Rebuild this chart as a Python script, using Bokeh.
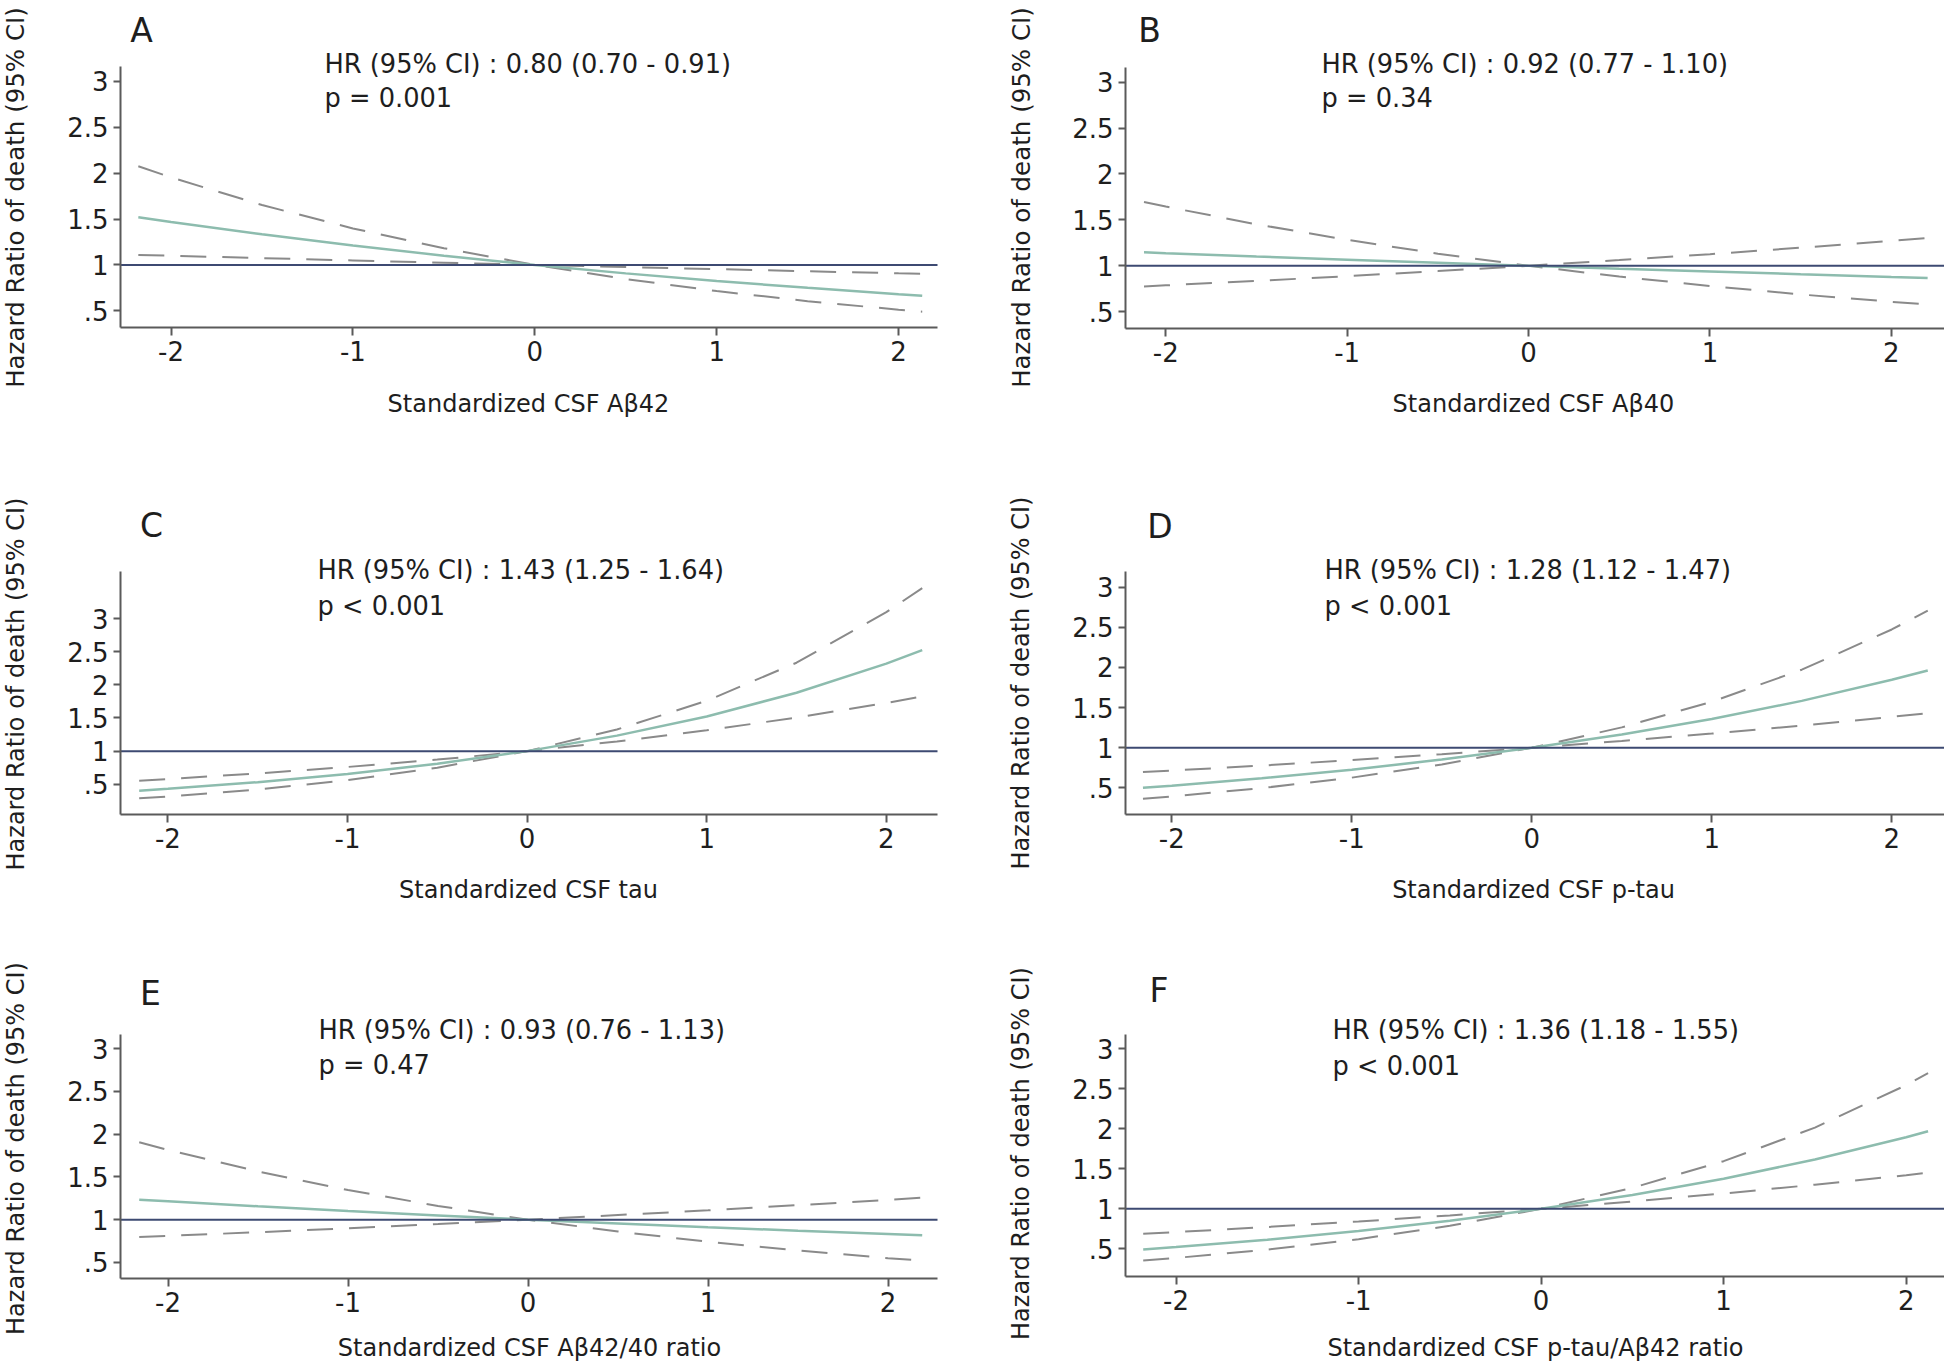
from math import pi
from bokeh.plotting import figure
from bokeh.models import Label, FixedTicker, Range1d
from bokeh.layouts import gridplot
from bokeh.embed import file_html
from bokeh.resources import INLINE

# ---------------- data ----------------
X_TICKS = [-2, -1, 0, 1, 2]
X_TICK_LABELS = ["-2", "-1", "0", "1", "2"]
Y_TICKS = [0.5, 1, 1.5, 2, 2.5, 3]
Y_TICK_LABELS = [".5", "1", "1.5", "2", "2.5", "3"]
REFERENCE_HR = 1

Y_LABEL = "Hazard Ratio of death (95% CI)"
PANEL_LETTERS = ["A", "B", "C", "D", "E", "F"]
X_LABELS = ["Standardized CSF Aβ42", "Standardized CSF Aβ40", "Standardized CSF tau",
            "Standardized CSF p-tau", "Standardized CSF Aβ42/40 ratio",
            "Standardized CSF p-tau/Aβ42 ratio"]
HR_TEXTS = ["HR (95% CI) : 0.80 (0.70 - 0.91)", "HR (95% CI) : 0.92 (0.77 - 1.10)",
            "HR (95% CI) : 1.43 (1.25 - 1.64)", "HR (95% CI) : 1.28 (1.12 - 1.47)",
            "HR (95% CI) : 0.93 (0.76 - 1.13)", "HR (95% CI) : 1.36 (1.18 - 1.55)"]
P_TEXTS = ["p = 0.001", "p = 0.34", "p < 0.001", "p < 0.001", "p = 0.47", "p < 0.001"]

A_X = [-2.18, -2, -1.5, -1, -0.5, 0, 0.5, 1, 1.5, 2, 2.13]
A_HR = [1.52, 1.468, 1.334, 1.212, 1.101, 1.0, 0.908, 0.825, 0.750, 0.681, 0.664]
A_LO = [2.075, 1.954, 1.653, 1.398, 1.182, 1.0, 0.846, 0.715, 0.605, 0.512, 0.49]
A_HI = [1.109, 1.100, 1.074, 1.049, 1.024, 1.0, 0.977, 0.954, 0.931, 0.909, 0.904]

B_X = [-2.12, -2, -1.5, -1, -0.5, 0, 0.5, 1, 1.5, 2, 2.2]
B_HR = [1.147, 1.138, 1.102, 1.067, 1.033, 1.0, 0.968, 0.938, 0.908, 0.879, 0.868]
B_LO = [1.695, 1.645, 1.452, 1.283, 1.132, 1.0, 0.883, 0.780, 0.688, 0.608, 0.578]
B_HI = [0.775, 0.787, 0.835, 0.887, 0.942, 1.0, 1.062, 1.127, 1.197, 1.271, 1.302]

C_X = [-2.16, -2, -1.5, -1, -0.5, 0, 0.5, 1, 1.5, 2, 2.2]
C_HR = [0.403, 0.431, 0.532, 0.656, 0.810, 1.0, 1.234, 1.523, 1.880, 2.32, 2.525]
C_LO = [0.554, 0.579, 0.664, 0.761, 0.872, 1.0, 1.146, 1.314, 1.506, 1.727, 1.824]
C_HI = [0.288, 0.316, 0.421, 0.562, 0.750, 1.0, 1.327, 1.759, 2.334, 3.096, 3.46]

D_X = [-2.16, -2, -1.5, -1, -0.5, 0, 0.5, 1, 1.5, 2, 2.2]
D_HR = [0.502, 0.528, 0.620, 0.727, 0.853, 1.0, 1.166, 1.358, 1.584, 1.846, 1.962]
D_LO = [0.697, 0.716, 0.778, 0.846, 0.920, 1.0, 1.085, 1.177, 1.277, 1.385, 1.43]
D_HI = [0.366, 0.394, 0.498, 0.628, 0.792, 1.0, 1.254, 1.573, 1.972, 2.473, 2.708]

E_X = [-2.16, -2, -1.5, -1, -0.5, 0, 0.5, 1, 1.5, 2, 2.19]
E_HR = [1.234, 1.215, 1.157, 1.102, 1.050, 1.0, 0.955, 0.912, 0.871, 0.832, 0.817]
E_LO = [1.905, 1.815, 1.564, 1.347, 1.161, 1.0, 0.862, 0.742, 0.640, 0.551, 0.521]
E_HI = [0.797, 0.811, 0.854, 0.900, 0.949, 1.0, 1.054, 1.110, 1.170, 1.232, 1.257]

F_X = [-2.18, -2, -1.5, -1, -0.5, 0, 0.5, 1, 1.5, 2, 2.12]
F_HR = [0.492, 0.522, 0.614, 0.722, 0.850, 1.0, 1.174, 1.377, 1.616, 1.896, 1.971]
F_LO = [0.688, 0.709, 0.773, 0.842, 0.918, 1.0, 1.092, 1.192, 1.302, 1.421, 1.451]
F_HI = [0.354, 0.386, 0.490, 0.621, 0.788, 1.0, 1.263, 1.596, 2.016, 2.547, 2.696]

SERIES = [(A_X, A_HR, A_LO, A_HI), (B_X, B_HR, B_LO, B_HI), (C_X, C_HR, C_LO, C_HI),
          (D_X, D_HR, D_LO, D_HI), (E_X, E_HR, E_LO, E_HI), (F_X, F_HR, F_LO, F_HI)]

# ---------------- layout / style (page pixel coordinates) ----------------
FONT = "DejaVu Sans"
TEXT_COLOR = "#1e1e1e"
AXIS_COLOR = "#5a5a5a"
HR_COLOR = "#8dbcae"
CI_COLOR = "#8a8a8a"
REF_COLOR = "#3d4a72"
CI_DASH = "26 16"

COL_OX = [0, 968]
COL_W = [968, 976]
ROW_OY = [0, 455, 930]
ROW_H = [455, 475, 437]

# axes box (left, top, right, bottom) in page px, its x/y data extent, text centres in page px
GEOM = [
    dict(frame=(120, 66, 937, 327), xr=(-2.278, 2.214), yr=(0.318, 3.163),
         letter=(141, 30), hr=(324, 63), p=(324, 97), xl=(528, 403), yl=(15, 197), yls="24.5px"),
    dict(frame=(1125, 67, 1944, 328), xr=(-2.222, 2.293), yr=(0.317, 3.16),
         letter=(1149, 30), hr=(1321, 63), p=(1321, 97), xl=(1533, 403), yl=(1020.5, 197), yls="24.5px"),
    dict(frame=(120, 571, 937, 814), xr=(-2.264, 2.285), yr=(0.044, 3.71),
         letter=(151, 525), hr=(317, 569), p=(317, 605), xl=(528, 889), yl=(15, 683.5), yls="24px"),
    dict(frame=(1125, 571, 1944, 814), xr=(-2.257, 2.293), yr=(0.169, 3.195),
         letter=(1159.5, 526), hr=(1324, 569), p=(1324, 605), xl=(1533, 889), yl=(1020.5, 682.5), yls="24px"),
    dict(frame=(120, 1034, 937, 1278), xr=(-2.264, 2.275), yr=(0.313, 3.164),
         letter=(150, 993), hr=(318, 1029), p=(318, 1064), xl=(529, 1347), yl=(15.5, 1148), yls="24px"),
    dict(frame=(1125, 1034, 1944, 1276), xr=(-2.277, 2.21), yr=(0.154, 3.18),
         letter=(1158.5, 990), hr=(1332, 1029), p=(1332, 1065), xl=(1535, 1347), yl=(1020.5, 1153), yls="24px"),
]


def make_panel(i):
    row, col = divmod(i, 2)
    ox, oy = COL_OX[col], ROW_OY[row]
    w, h = COL_W[col], ROW_H[row]
    g = GEOM[i]
    fl, ft, fr, fb = g["frame"]
    xa, xb = g["xr"]
    ya, yb = g["yr"]
    ppx = (fr - fl) / (xb - xa)
    ppy = (fb - ft) / (yb - ya)
    x_range = Range1d(xa - (fl - ox) / ppx, xb + (ox + w - fr) / ppx)
    y_range = Range1d(ya - (oy + h - fb) / ppy, yb + (ft - oy) / ppy)
    p = figure(width=w, height=h, output_backend="svg", toolbar_location=None,
               x_range=x_range, y_range=y_range,
               min_border_left=0, min_border_right=0, min_border_top=0, min_border_bottom=0)
    p.outline_line_color = None
    p.grid.visible = False
    p.background_fill_color = "white"
    p.border_fill_color = "white"

    p.xaxis.ticker = FixedTicker(ticks=X_TICKS)
    p.xaxis.major_label_overrides = dict(zip(X_TICKS, X_TICK_LABELS))
    p.yaxis.ticker = FixedTicker(ticks=Y_TICKS)
    p.yaxis.major_label_overrides = dict(zip(Y_TICKS, Y_TICK_LABELS))
    p.xaxis.fixed_location = ya
    p.yaxis.fixed_location = xa
    p.xaxis.bounds = (xa, xb)
    p.yaxis.bounds = (ya, yb)
    for ax in (p.xaxis[0], p.yaxis[0]):
        ax.axis_line_color = AXIS_COLOR
        ax.axis_line_width = 2
        ax.major_tick_line_color = AXIS_COLOR
        ax.major_tick_line_width = 2
        ax.major_tick_in = 0
        ax.minor_tick_line_color = None
        ax.major_label_text_font = FONT
        ax.major_label_text_font_size = "26px"
        ax.major_label_text_color = TEXT_COLOR
        ax.major_label_standoff = 5
    p.xaxis.major_tick_out = 8
    p.yaxis.major_tick_out = 7

    xs, hr, lo, hi = SERIES[i]
    p.line(xs, lo, line_color=CI_COLOR, line_width=2, line_dash=CI_DASH)
    p.line(xs, hi, line_color=CI_COLOR, line_width=2, line_dash=CI_DASH)
    p.line(xs, hr, line_color=HR_COLOR, line_width=2.5)
    p.segment(x0=[xa], y0=[REFERENCE_HR], x1=[xb], y1=[REFERENCE_HR],
              line_color=REF_COLOR, line_width=2)

    def add_text(pos, text, size, align="left", angle=0.0):
        rx, ry = pos
        p.add_layout(Label(x=rx - ox, y=oy + h - ry, x_units="screen", y_units="screen",
                           text=text, text_font=FONT, text_font_size=size,
                           text_color=TEXT_COLOR, text_align=align,
                           text_baseline="middle", angle=angle))

    add_text(g["letter"], PANEL_LETTERS[i], "33px", align="center")
    add_text(g["hr"], HR_TEXTS[i], "25.7px")
    add_text(g["p"], P_TEXTS[i], "25.7px")
    add_text(g["xl"], X_LABELS[i], "24px", align="center")
    add_text(g["yl"], Y_LABEL, g["yls"], align="center", angle=pi / 2)
    return p


panels = [make_panel(i) for i in range(6)]
layout = gridplot([[panels[0], panels[1]], [panels[2], panels[3]], [panels[4], panels[5]]],
                  toolbar_location=None)

open("out.html", "w").write(file_html(layout, INLINE, title="Hazard ratios"))
